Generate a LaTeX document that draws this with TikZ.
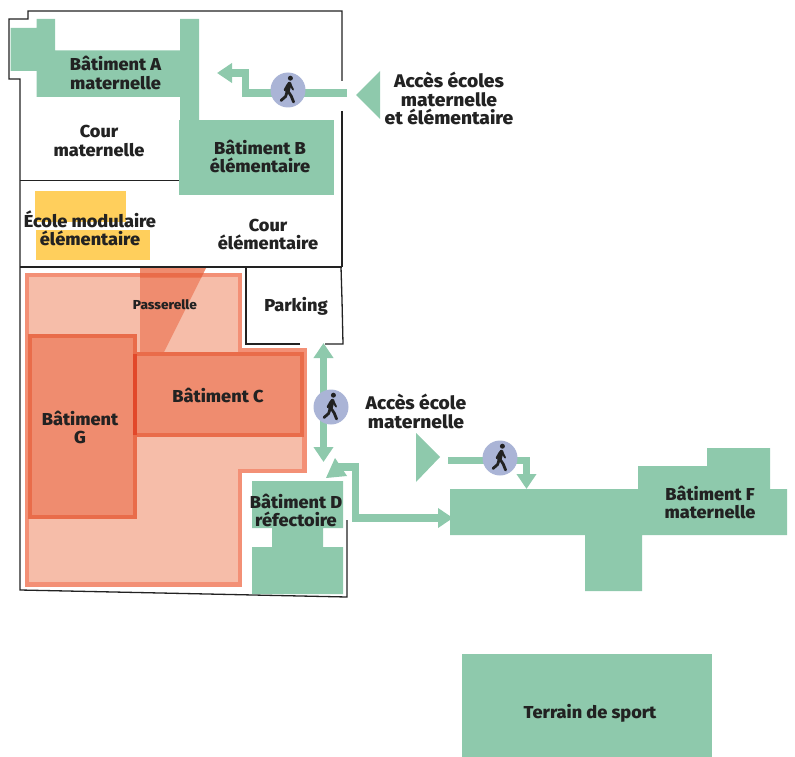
\documentclass[tikz,border=0pt]{standalone}
\usepackage{fontspec}
\setmainfont{Fira Sans}
\newfontfamily\heavyfont[FakeStretch=1.05]{Fira Sans ExtraBold}
\usetikzlibrary{arrows.meta}
\definecolor{vert}{HTML}{8EC9AC}
\definecolor{jaune}{HTML}{FFCF5C}
\definecolor{rosefond}{HTML}{F6BDA9}
\definecolor{rosebord}{HTML}{F39076}
\definecolor{rougefond}{HTML}{EF8C6F}
\definecolor{rougebord}{HTML}{E96C4A}
\definecolor{rougedouble}{HTML}{E2482A}
\definecolor{bleu}{HTML}{AAB4D6}
\definecolor{encre}{HTML}{222222}
\tikzset{
  wall/.style={draw=encre,line width=1.3pt,line join=miter},
  bldg/.style={fill=vert,draw=none},
  lbl/.style={text=encre,font=\fontsize{17.3}{18.5}\selectfont\heavyfont,align=center,inner sep=0pt},
  lblbig/.style={lbl,font=\fontsize{18.3}{18.2}\selectfont\heavyfont},
  way/.style={draw=vert,line width=7.4pt},
  wayend/.style={-{Triangle[width=19pt,length=15pt]}},
  wayboth/.style={{Triangle[width=19pt,length=15pt]}-{Triangle[width=19pt,length=15pt]}},
  walker/.style={circle,fill=bleu,minimum size=35pt,inner sep=0pt},
  walkerlimb/.style={draw=encre,line cap=round,line join=round}
}
\newcommand{\walkicon}[1]{%
  \begin{scope}[shift={(#1.center)}]
    \fill[encre] (2.4,-11.8) circle (2.5);
    \draw[walkerlimb,line width=4.4pt] (1.4,-6) -- (-0.6,1);
    \draw[walkerlimb,line width=2.2pt] (-0.6,-5) -- (-3.2,0);
    \draw[walkerlimb,line width=2pt] (2.2,-6) -- (5,-0.5);
    \draw[walkerlimb,line width=2.8pt] (-0.8,1.5) -- (-2.4,6.5) -- (-7,10.5);
    \draw[walkerlimb,line width=2.8pt] (0.2,1.5) -- (3.2,6) -- (5.6,12);
  \end{scope}}
\begin{document}
\begin{tikzpicture}[x=1pt,y=-1pt]
\useasboundingbox (0,0) rectangle (795,757);

% zone rose
\draw[fill=rosefond,draw=rosebord,line width=4.5pt]
  (27.2,275.2) -- (240,275.2) -- (240,350.2) -- (304.7,350.2) -- (304.7,471) -- (240,471) -- (240,584.7) -- (27.2,584.7) -- cycle;
% passerelle
\fill[rougefond] (140,268) -- (206,268) -- (164,352) -- (140,352) -- cycle;
\fill[rougebord] (140,273) -- (203.5,273) -- (201.3,277.5) -- (140,277.5) -- cycle;
% batiments rouges
\draw[fill=rougefond,draw=rougebord,line width=4.2pt] (135,354) rectangle (302,435);
\draw[fill=rougefond,draw=rougebord,line width=4.2pt] (30,336) rectangle (135,517);
\fill[rougedouble] (133,354) rectangle (137,435);

% murs
\draw[wall] (342,81) -- (342,11) -- (28,11) -- (28,19) -- (9,19) -- (9,79) -- (20,79) -- (20,590) -- (347,597) -- (347,520);
\draw[wall] (342,111) -- (342,267);
\draw[wall] (20,180.5) -- (179,180.5);
\draw[wall] (20,267) -- (342,267);
\draw[wall] (300,344) -- (246,344) -- (246,267);
\draw[wall] (325,344) -- (343,344) -- (342,300) -- (341,267);

% batiments verts
\fill[bldg] (36.5,19) -- (55,19) -- (55,50.5) -- (180,50.5) -- (180,19) -- (199,19) -- (199,120) -- (180,120) -- (180,97) -- (36.5,97) -- (36.5,71) -- (10.5,71) -- (10.5,28) -- (36.5,28) -- cycle;
\fill[bldg] (179,120) rectangle (334,195);
\fill[bldg] (252,481) -- (343,481) -- (343,528) -- (323,528) -- (323,547) -- (343,547) -- (343,594) -- (252,594) -- (252,547) -- (272,547) -- (272,528) -- (252,528) -- cycle;
\fill[bldg] (450,489) -- (638,489) -- (638,466) -- (707,466) -- (707,448) -- (770,448) -- (770,489) -- (787,489) -- (787,535) -- (642,535) -- (642,591) -- (585,591) -- (585,535) -- (450,535) -- cycle;
\fill[bldg] (462,654) rectangle (712,757);

% modulaire
\fill[jaune] (35,191) rectangle (126,222);
\fill[jaune] (36,230) rectangle (150,260);

% triangles d'acces
\fill[vert] (380,71) -- (356,95) -- (380,119) -- cycle;
\fill[vert] (416,433) -- (440,457) -- (416,482) -- cycle;

% points de passage
\coordinate (a1s) at (347,93);
\coordinate (a1b) at (245.3,93);
\coordinate (a1c) at (245.3,73);
\coordinate (a1e) at (217,73);
\coordinate (a2n) at (323.5,343);
\coordinate (a2s) at (323.5,462);
\coordinate (a3s) at (448,460.5);
\coordinate (a3c) at (526.5,460.5);
\coordinate (a3e) at (526.5,489);
\coordinate (a4e) at (453,518);
\coordinate (a4c) at (355.5,518);
\coordinate (a4t) at (355.5,467);
\coordinate (a4h) at (333,467);

% connecteurs
\draw[way,wayend] (a1s) -- (a1b) -- (a1c) -- (a1e);
\draw[way,wayboth] (a2n) -- (a2s);
\draw[way,wayend] (a3s) -- (a3c) -- (a3e);
\draw[way,wayend] (a4h) -- (a4t) -- (a4c) -- (a4e);
\fill[vert] (335,458) -- (326,478) -- (347,476) -- cycle;

% pietons
\node[walker] (w1) at (288,90) {};
\node[walker] (w2) at (331,407) {};
\node[walker] (w3) at (500,458) {};
\walkicon{w1}
\walkicon{w2}
\walkicon{w3}

% textes
\node[lbl] (tA) at (115.5,73) {Bâtiment A\\maternelle};
\node[lbl] (tCm) at (99,141) {Cour\\maternelle};
\node[lbl] (tB) at (260,156.5) {Bâtiment B\\élémentaire};
\node[lbl] (tM) at (90,228.5) {École modulaire\\élémentaire};
\node[lbl] (tCe) at (268,234.5) {Cour\\élémentaire};
\node[lbl,font=\fontsize{13}{14}\selectfont\heavyfont] (tP) at (165,305) {Passerelle};
\node[lbl] (tK) at (296,306) {Parking};
\node[lbl] (tC) at (218,395) {Bâtiment C};
\node[lbl] (tG) at (80,427.5) {Bâtiment\\G};
\node[lbl] (tD) at (296,510.5) {Bâtiment D\\réfectoire};
\node[lblbig] (tAm) at (416,411.5) {Accès école\\maternelle};
\node[lbl] (tF) at (710,502.5) {Bâtiment F\\maternelle};
\node[lbl] (tT) at (590,713) {Terrain de sport};
\node[lblbig] (tAe) at (449,98.5) {Accès écoles\\maternelle\\et élémentaire};
\end{tikzpicture}
\end{document}
